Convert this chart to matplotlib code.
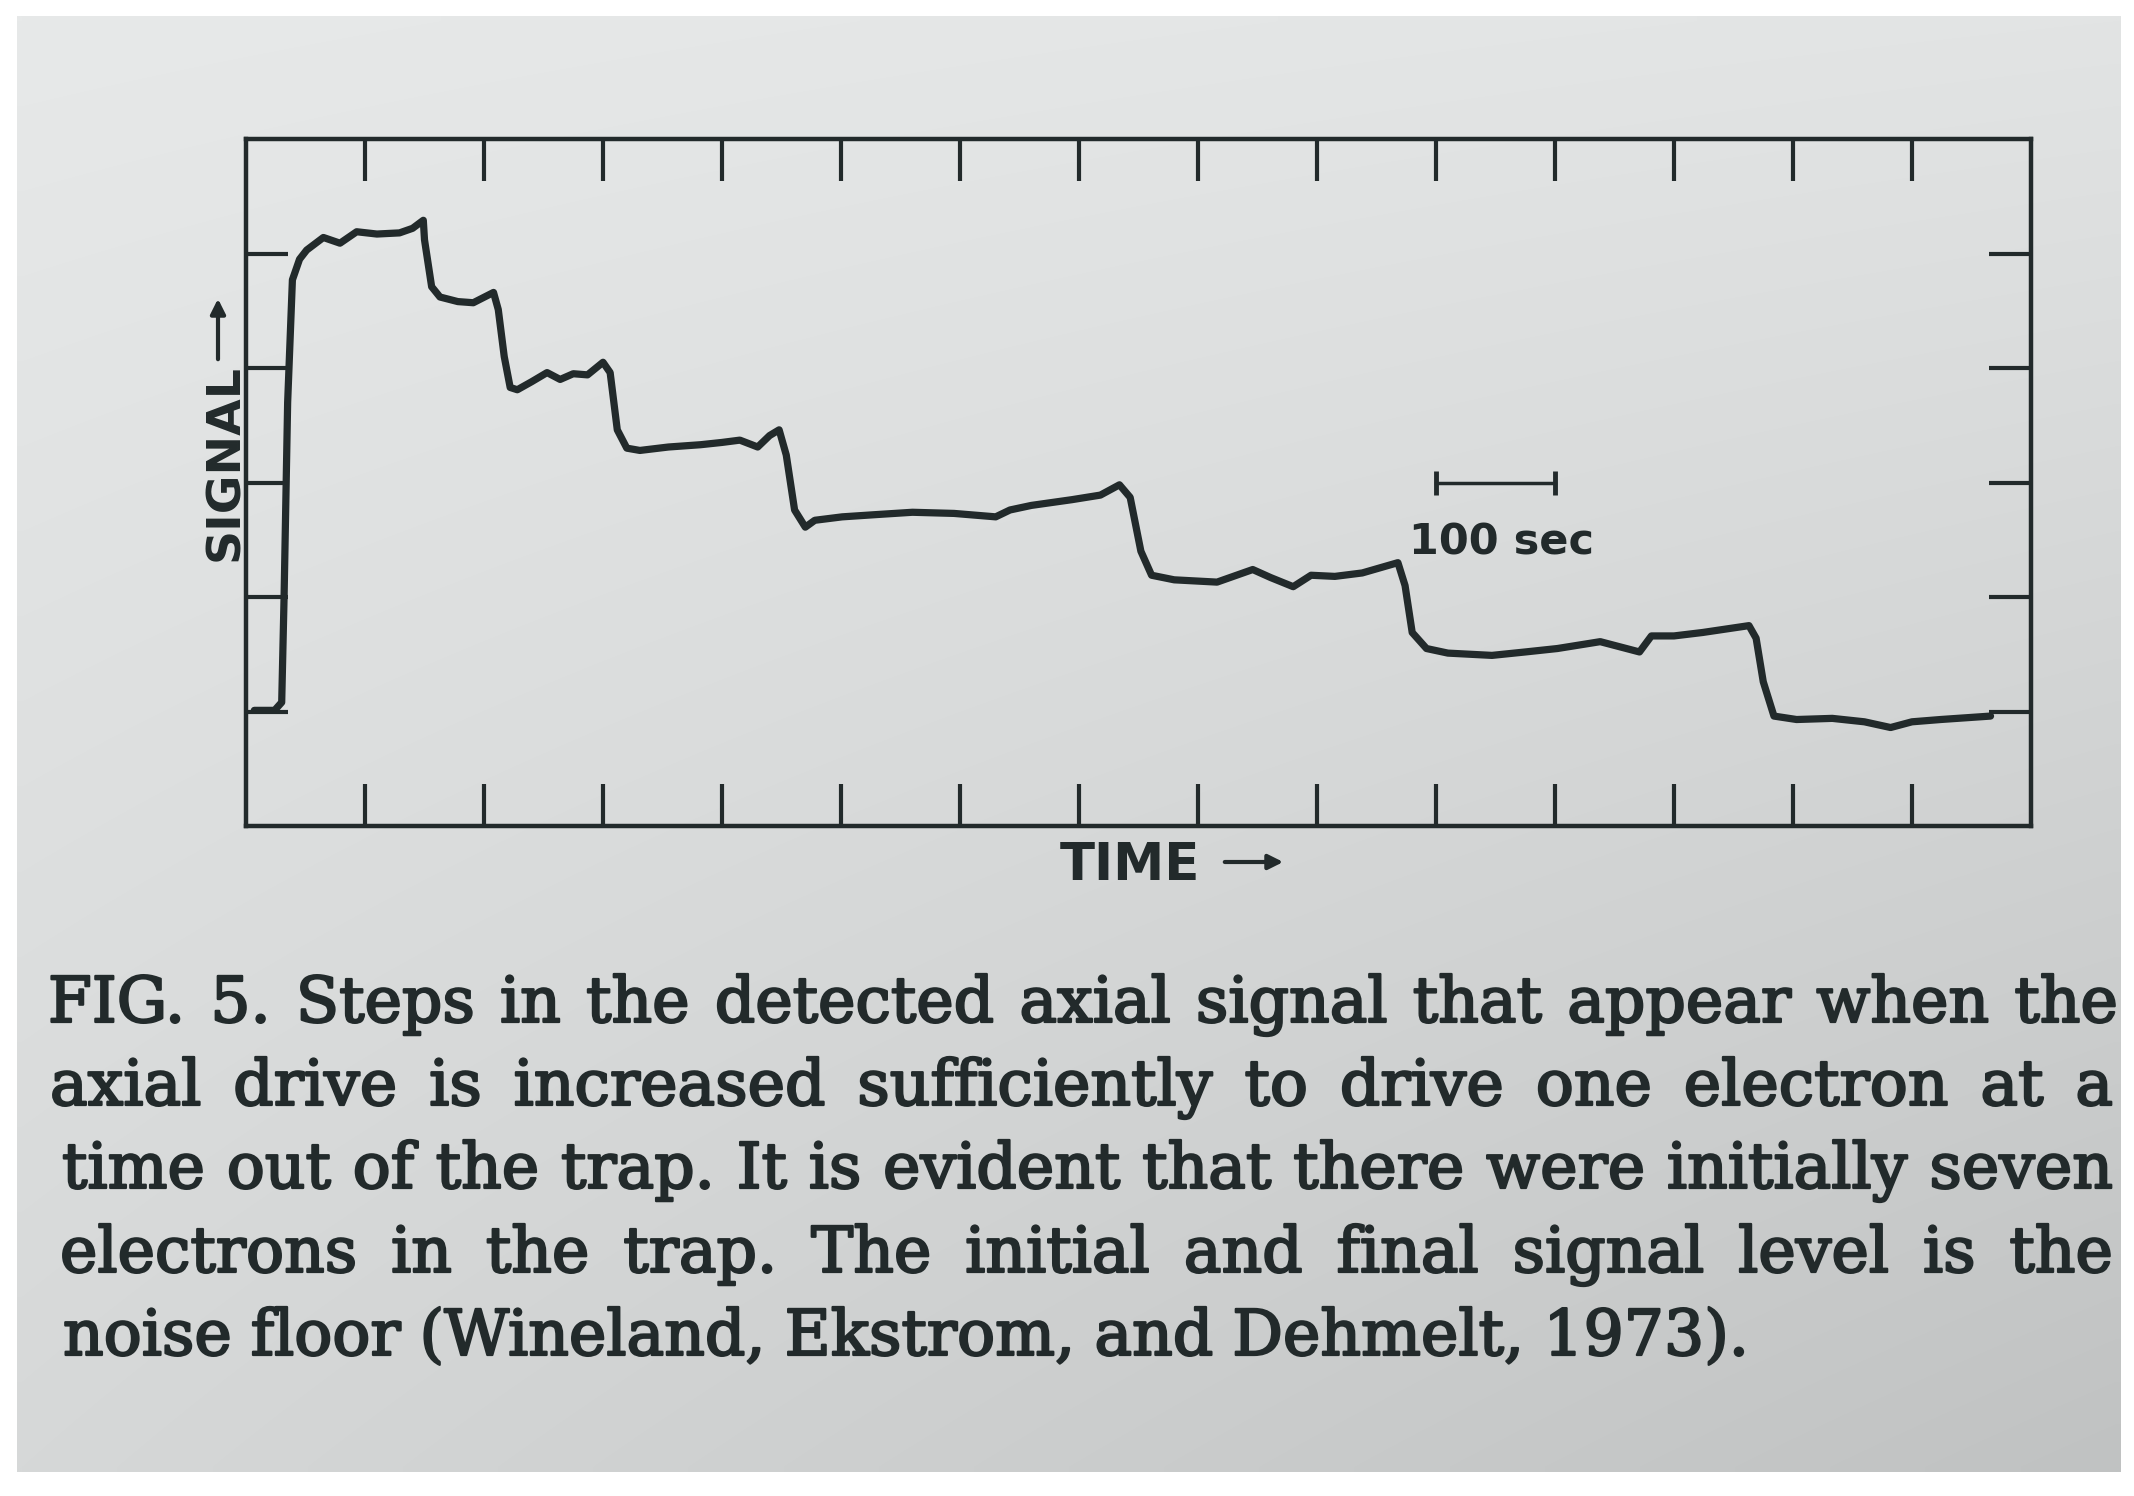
import numpy as np
import matplotlib
matplotlib.use("Agg")
import matplotlib.pyplot as plt
import matplotlib.patheffects as pe

# trace (time in tick units, signal in tick units)
time_pts = [0.07, 0.24, 0.30, 0.32, 0.35, 0.39, 0.45, 0.51, 0.65, 0.79, 0.93, 1.10, 1.29, 1.40, 1.49,
            1.50, 1.56, 1.63, 1.78, 1.91, 2.08, 2.12, 2.17, 2.22, 2.28, 2.40, 2.53, 2.64, 2.75, 2.87,
            3.00, 3.06, 3.12, 3.20, 3.31, 3.55, 3.82, 4.00, 4.15, 4.30, 4.40, 4.48,
            4.54, 4.61, 4.70, 4.78, 5.01, 5.30, 5.60, 5.95, 6.30, 6.42, 6.60, 6.94, 7.18, 7.34,
            7.43, 7.52, 7.61, 7.80, 8.16, 8.46, 8.61, 8.80, 8.95, 9.15, 9.38, 9.68,
            9.74, 9.80, 9.92, 10.10, 10.47, 10.75, 11.02, 11.38, 11.71, 11.81, 12.00, 12.24, 12.63,
            12.69, 12.75, 12.84, 13.03, 13.33, 13.60, 13.82, 14.00, 14.24, 14.66]
signal_pts = [1.01, 1.01, 1.08, 2.00, 3.70, 4.77, 4.95, 5.03, 5.14, 5.09, 5.19, 5.17, 5.18, 5.22, 5.29,
              5.12, 4.71, 4.62, 4.58, 4.57, 4.66, 4.51, 4.10, 3.83, 3.81, 3.88, 3.96, 3.90, 3.95, 3.94,
              4.05, 3.96, 3.46, 3.30, 3.28, 3.31, 3.33, 3.35, 3.37, 3.31, 3.41, 3.46,
              3.24, 2.76, 2.61, 2.67, 2.70, 2.72, 2.74, 2.73, 2.70, 2.76, 2.80, 2.85, 2.89, 2.98,
              2.87, 2.40, 2.19, 2.15, 2.13, 2.24, 2.17, 2.09, 2.19, 2.18, 2.21, 2.30,
              2.10, 1.69, 1.55, 1.51, 1.49, 1.52, 1.55, 1.61, 1.52, 1.66, 1.66, 1.69, 1.75,
              1.64, 1.26, 0.96, 0.93, 0.94, 0.91, 0.86, 0.91, 0.93, 0.96]

x_ticks = list(range(1, 15))
y_ticks = list(range(1, 6))
scale_bar_x = [10.0, 11.0]
scale_bar_y = 3.0

caption_lines = [
    "FIG. 5.  Steps in the detected axial signal that appear when the",
    "axial drive is increased sufficiently to drive one electron at a",
    "time out of the trap.  It is evident that there were initially seven",
    "electrons in the trap.  The initial and final signal level is the",
    "noise floor (Wineland, Ekstrom, and Dehmelt, 1973).",
]

W, H = 2134, 1496
ink = "#222a2b"

fig = plt.figure(figsize=(W / 100, H / 100), dpi=100, facecolor="white")

# photographed page background with a soft vignette
bg = fig.add_axes([17 / W, 1 - 1472 / H, (2121 - 17) / W, (1472 - 16) / H], zorder=-5)
gx, gy = np.meshgrid(np.linspace(0, 1, 200), np.linspace(0, 1, 140))
tl, tr, bl, br = np.array([231, 233, 233]), np.array([226, 228, 228]), np.array([214, 216, 216]), np.array([192, 194, 194])
img = ((1 - gx)[..., None] * (1 - gy)[..., None] * tl + gx[..., None] * (1 - gy)[..., None] * tr
       + (1 - gx)[..., None] * gy[..., None] * bl + gx[..., None] * gy[..., None] * br) / 255
bg.imshow(img, aspect="auto", interpolation="bilinear")
bg.axis("off")

# main plot box
ax = fig.add_axes([246 / W, 1 - 826 / H, (2031 - 246) / W, (826 - 139) / H])
ax.patch.set_alpha(0)
ax.plot(time_pts, signal_pts, color=ink, lw=5.2, solid_joinstyle="round", solid_capstyle="round")
ax.set_xlim(0, 15)
ax.set_ylim(0, 6)
ax.set_xticks(x_ticks)
ax.set_yticks(y_ticks)
ax.tick_params(direction="in", length=30, width=3, color=ink, top=True, right=True,
               labelbottom=False, labelleft=False)
for sp in ax.spines.values():
    sp.set_linewidth(3.2)
    sp.set_color(ink)

# 100 sec scale bar
ax.plot(scale_bar_x, [scale_bar_y, scale_bar_y], color=ink, lw=2.5, marker="|", markersize=17, mew=3.5)
ax.text(9.77, 2.37, "100 sec", fontsize=31, fontweight="bold", color=ink, ha="left", va="baseline")

# axis labels with arrows
fig.text(238 / W, 1 - 463 / H, "SIGNAL", rotation=90, rotation_mode="anchor", ha="center",
         va="baseline", fontsize=34, fontweight="bold", color=ink)
ax.annotate("", xy=(218, H - 296), xytext=(218, H - 362), xycoords="figure pixels",
            textcoords="figure pixels",
            arrowprops=dict(arrowstyle="-|>", lw=3, color=ink, mutation_scale=22))
fig.text(1060 / W, 1 - 880 / H, "TIME", fontsize=37, fontweight="bold", color=ink,
         ha="left", va="baseline")
ax.annotate("", xy=(1286, H - 862), xytext=(1222, H - 862), xycoords="figure pixels",
            textcoords="figure pixels",
            arrowprops=dict(arrowstyle="-|>", lw=3, color=ink, mutation_scale=22))

# justified caption
renderer = fig.canvas.get_renderer()
baselines = [1022, 1105, 1188, 1272, 1355]
lefts = [48, 50, 62, 60, 63]
rights = [2118, 2113, 2113, 2113, None]
cap_size = 45.5
effects = [pe.withStroke(linewidth=1.6, foreground=ink)]
for line, base, left, right in zip(caption_lines, baselines, lefts, rights):
    words = line.split()
    texts = [fig.text(0, 1 - base / H, w, fontsize=cap_size, family="DejaVu Serif", color=ink,
                      ha="left", va="baseline", path_effects=effects) for w in words]
    widths = [t.get_window_extent(renderer).width for t in texts]
    if right is None:
        gap = 0.30 * cap_size * 100 / 72
    else:
        gap = (right - left - sum(widths)) / (len(words) - 1)
    x = left
    for t, w in zip(texts, widths):
        t.set_x(x / W)
        x += w + gap

fig.savefig("out.png", dpi=100, facecolor="white")
